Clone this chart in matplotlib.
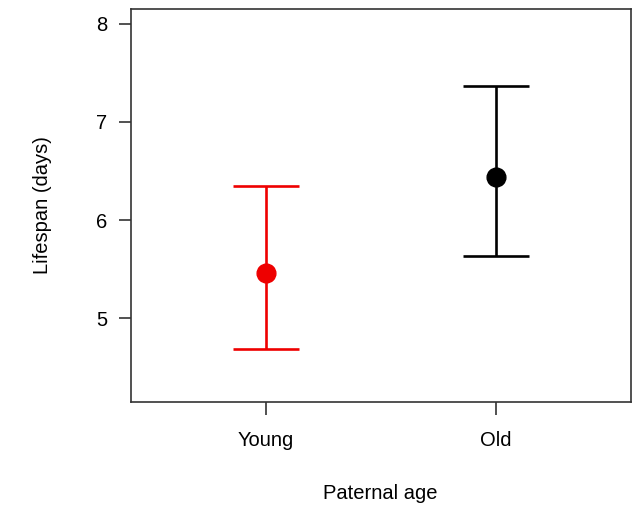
import matplotlib.pyplot as plt

plt.rcParams['font.family'] = ['Liberation Sans', 'DejaVu Sans']

groups = ["Young", "Old"]
means = [5.46, 6.44]
upper = [6.35, 7.37]
lower = [4.69, 5.63]
colors = ["#ee0000", "black"]

fig = plt.figure(figsize=(6.41, 5.07), dpi=100)
ax = fig.add_axes([0.2044, 0.2071, 0.78, 0.7742])

for i in range(len(groups)):
    x = i + 1
    err = [[means[i] - lower[i]], [upper[i] - means[i]]]
    ax.errorbar([x], [means[i]], yerr=err, fmt='o', color=colors[i],
                markersize=13.5, elinewidth=1.9, capsize=24, capthick=1.9)

ax.set_xlim(0.415, 2.585)
ax.set_ylim(4.148, 8.145)
ax.set_xticks([1, 2])
ax.set_xticklabels(groups)
ax.set_yticks([5, 6, 7, 8])

for s in ax.spines.values():
    s.set_color("#333333")
    s.set_linewidth(1.2)
ax.tick_params(axis='both', direction='out', length=9, width=1.2, color="#333333",
               labelsize=14.5)
ax.tick_params(axis='y', pad=8)
ax.tick_params(axis='x', pad=12)

ax.set_xlabel("Paternal age", fontsize=14.5)
ax.set_ylabel("Lifespan (days)", fontsize=14.5)
ax.xaxis.set_label_coords(0.498, -0.21)
ax.yaxis.set_label_coords(-0.158, 0.502)

fig.savefig("out.png", dpi=100)
